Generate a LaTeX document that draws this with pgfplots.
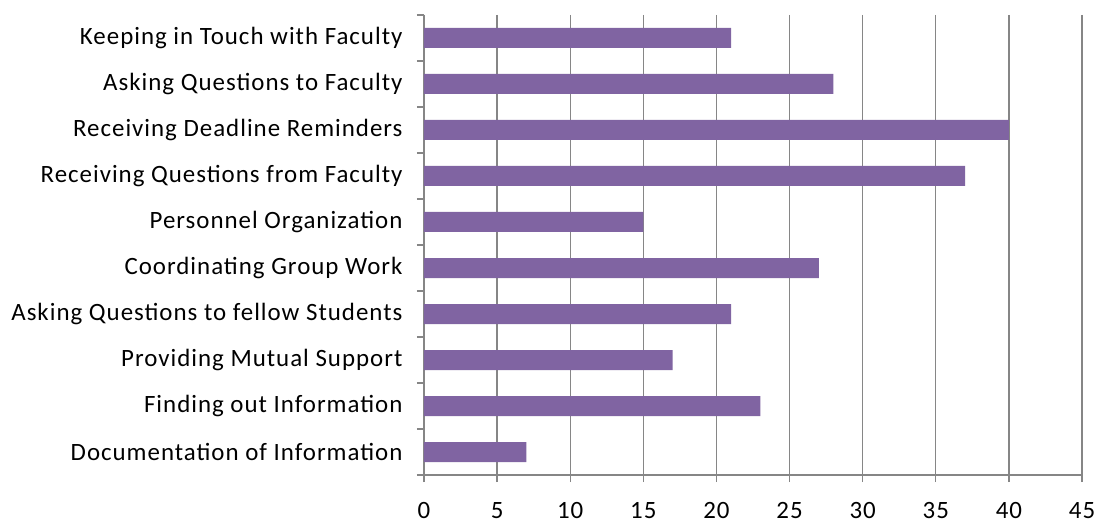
\documentclass[border=0pt]{standalone}
\usepackage{fontspec}
\setmainfont{Carlito}
\newfontfamily\lblfont[LetterSpace=4]{Carlito}
\usepackage{pgfplots}
\pgfplotsset{compat=1.18}
\definecolor{barpurple}{HTML}{8064A2}
\definecolor{axgray}{HTML}{868686}
\begin{document}
\begin{tikzpicture}
\begin{axis}[
  scale only axis,
  width=658bp, height=460bp,
  xmin=0, xmax=45,
  ymin=-0.5, ymax=9.5,
  y dir=reverse,
  xtick={0,5,...,45},
  ytick={0,...,9},
  yticklabels={Keeping in Touch with Faculty,Asking Questions to Faculty,Receiving Deadline Reminders,Receiving Questions from Faculty,Personnel Organization,Coordinating Group Work,Asking Questions to fellow Students,Providing Mutual Support,Finding out Information,Documentation of Information},
  minor ytick={-0.5,0.5,...,9.5},
  axis x line*=bottom,
  axis y line*=left,
  axis line style={axgray, line width=1.3bp, -},
  major x tick style={axgray, line width=1.3bp},
  major y tick style={draw=none},
  minor y tick style={axgray, line width=1.3bp},
  tick align=outside,
  major tick length=7bp,
  minor tick length=7bp,
  xmajorgrids,
  major grid style={draw=axgray, line width=1.3bp},
  tick label style={font=\lblfont\fontsize{25}{28}\selectfont, text=black},
  yticklabel style={xshift=-11bp},
  xticklabel style={yshift=-20bp, inner ysep=0pt},
  /pgf/number format/assume math mode=true,
  xbar, bar width=20bp,
]
\addplot[fill=barpurple, draw=none] coordinates {
(21,0) (28,1) (40,2) (37,3) (15,4) (27,5) (21,6) (17,7) (23,8) (7,9)
};
\end{axis}
\pgfresetboundingbox
\useasboundingbox (-424bp,-48bp) rectangle (676bp,475bp);
\end{tikzpicture}
\end{document}
